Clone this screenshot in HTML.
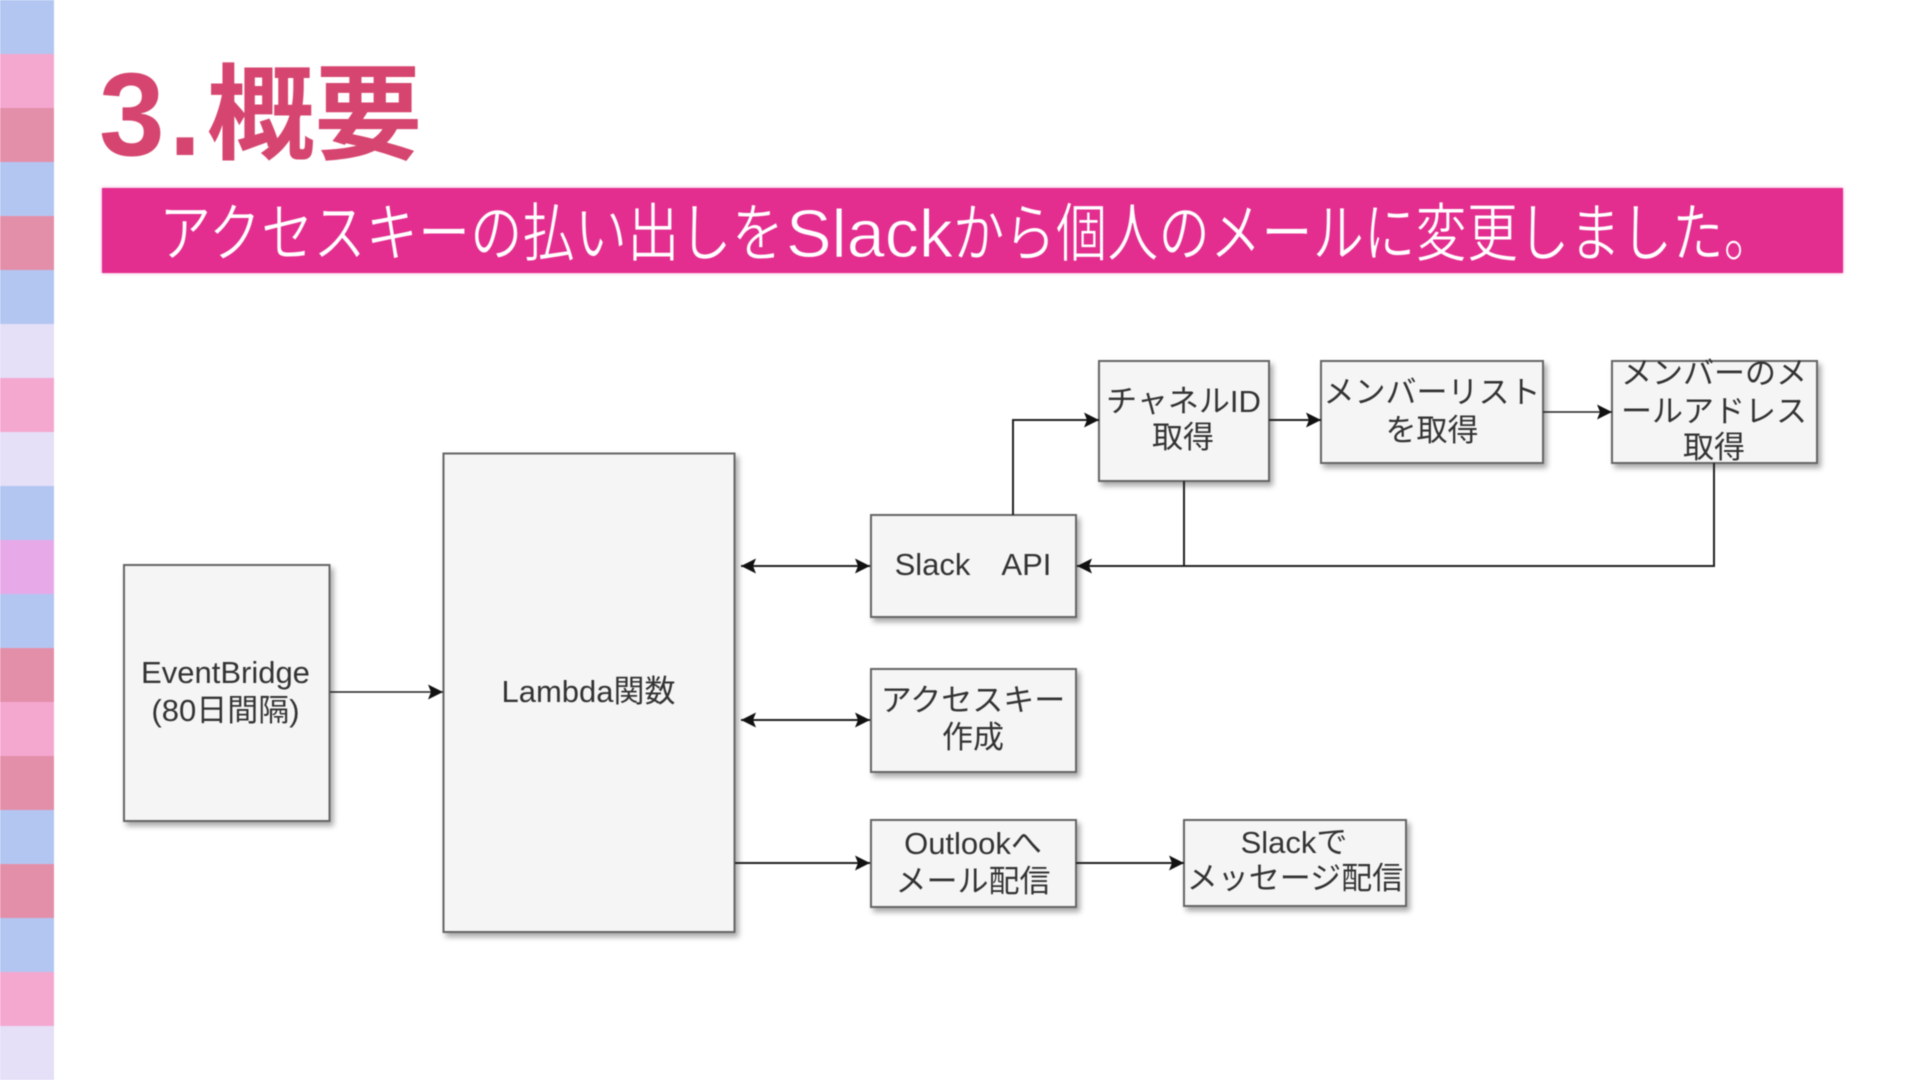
<!DOCTYPE html>
<html lang="ja"><head><meta charset="utf-8"><title>3.概要</title>
<style>
html,body{margin:0;padding:0;background:#fff;width:1920px;height:1080px;overflow:hidden}
svg{display:block;position:absolute;left:0;top:0;filter:blur(.4px)}
.b{fill:#f5f5f5;stroke:#666;stroke-width:2;filter:url(#s)}
.l{fill:none;stroke:#222;stroke-width:2}
.t{font-family:"Liberation Sans","Noto Sans CJK JP",sans-serif;font-size:31px;fill:#333;text-anchor:middle}
.w{font-family:"Liberation Sans","Noto Sans CJK JP",sans-serif;fill:#fff;stroke:#e32d8f;stroke-width:.9px}
.h{font-family:"Liberation Sans","Noto Sans CJK JP",sans-serif;font-weight:700;fill:#d6456f}
</style></head><body>
<svg width="1920" height="1080" viewBox="0 0 1920 1080" xmlns="http://www.w3.org/2000/svg">
<defs>
<filter id="s" x="-20%" y="-20%" width="140%" height="140%"><feDropShadow dx="3" dy="4" stdDeviation="3" flood-color="#000" flood-opacity=".35"/></filter>
<filter id="g" x="-2%" y="-20%" width="104%" height="140%"><feDropShadow dx="0" dy="0" stdDeviation="1.5" flood-color="#f49ac8" flood-opacity="1"/></filter>
<marker id="a" markerUnits="userSpaceOnUse" markerWidth="20" markerHeight="20" refX="18" refY="10" orient="auto-start-reverse"><path d="M18 10L3 2.500L6 10L3 17.500Z" fill="#111"/></marker>
</defs>
<g>
<rect x="0" y="0" width="54" height="54" fill="#b3c6f2"/>
<rect x="0" y="54" width="54" height="54" fill="#f4a8d0"/>
<rect x="0" y="108" width="54" height="54" fill="#e48faa"/>
<rect x="0" y="162" width="54" height="54" fill="#b3c6f2"/>
<rect x="0" y="216" width="54" height="54" fill="#e48faa"/>
<rect x="0" y="270" width="54" height="54" fill="#b3c6f2"/>
<rect x="0" y="324" width="54" height="54" fill="#e5e0f8"/>
<rect x="0" y="378" width="54" height="54" fill="#f4a8d0"/>
<rect x="0" y="432" width="54" height="54" fill="#e5e0f8"/>
<rect x="0" y="486" width="54" height="54" fill="#b3c6f2"/>
<rect x="0" y="540" width="54" height="54" fill="#e8a9e8"/>
<rect x="0" y="594" width="54" height="54" fill="#b3c6f2"/>
<rect x="0" y="648" width="54" height="54" fill="#e48faa"/>
<rect x="0" y="702" width="54" height="54" fill="#f4a8d0"/>
<rect x="0" y="756" width="54" height="54" fill="#e48faa"/>
<rect x="0" y="810" width="54" height="54" fill="#b3c6f2"/>
<rect x="0" y="864" width="54" height="54" fill="#e48faa"/>
<rect x="0" y="918" width="54" height="54" fill="#b3c6f2"/>
<rect x="0" y="972" width="54" height="54" fill="#f4a8d0"/>
<rect x="0" y="1026" width="54" height="54" fill="#e5e0f8"/>
</g>
<text class="h" x="99" y="155" font-size="118" letter-spacing="4">3.</text>
<text class="h" x="207" y="151" font-size="104" textLength="215" lengthAdjust="spacingAndGlyphs">概要</text>
<rect x="102" y="188" width="1741" height="85" fill="#e32d8f" filter="url(#g)"/>
<text class="w" x="159" y="256" font-size="64" textLength="625" lengthAdjust="spacingAndGlyphs">アクセスキーの払い出しを</text>
<text class="w" x="786" y="257" font-size="68" textLength="167" lengthAdjust="spacingAndGlyphs">Slack</text>
<text class="w" x="953" y="256" font-size="64" textLength="822" lengthAdjust="spacingAndGlyphs">から個人のメールに変更しました。</text>

<rect class="b" x="124" y="565" width="205.500" height="256"/>
<rect class="b" x="443.500" y="453.500" width="291" height="478.500"/>
<rect class="b" x="871" y="515" width="205" height="102"/>
<rect class="b" x="871" y="669" width="205" height="103"/>
<rect class="b" x="871" y="820" width="205" height="87"/>
<rect class="b" x="1184" y="820" width="222" height="86"/>
<rect class="b" x="1099" y="361" width="170" height="120"/>
<rect class="b" x="1321" y="361" width="222" height="102"/>
<rect class="b" x="1612" y="361" width="205" height="102"/>

<path class="l" style="stroke-width:1.5" d="M330 692H443" marker-end="url(#a)"/>
<path class="l" d="M741 566H870" marker-start="url(#a)" marker-end="url(#a)"/>
<path class="l" d="M741 720H870" marker-start="url(#a)" marker-end="url(#a)"/>
<path class="l" d="M735 863H870" marker-end="url(#a)"/>
<path class="l" d="M1076 863H1184" marker-end="url(#a)"/>
<path class="l" d="M1013 515V420H1099" marker-end="url(#a)"/>
<path class="l" d="M1269 420H1321" marker-end="url(#a)"/>
<path class="l" style="stroke-width:1.5" d="M1543 412H1612" marker-end="url(#a)"/>
<path class="l" d="M1714 463V566H1077" marker-end="url(#a)"/>
<path class="l" d="M1184 481V566"/>

<text class="t" x="225.500" y="683">EventBridge</text>
<text class="t" x="225.500" y="721">(80日間隔)</text>
<text class="t" x="588.500" y="702">Lambda関数</text>
<text class="t" x="973" y="575">Slack　API</text>
<text class="t" x="973" y="711">アクセスキー</text>
<text class="t" x="973" y="748">作成</text>
<text class="t" x="973" y="854">Outlookへ</text>
<text class="t" x="973" y="892">メール配信</text>
<text class="t" x="1294" y="853">Slackで</text>
<text class="t" x="1295" y="889">メッセージ配信</text>
<text class="t" x="1183.500" y="412">チャネルID</text>
<text class="t" x="1183" y="448">取得</text>
<text class="t" x="1432" y="403">メンバーリスト</text>
<text class="t" x="1432" y="441">を取得</text>
<text class="t" x="1714" y="384">メンバーのメ</text>
<text class="t" x="1714" y="422">ールアドレス</text>
<text class="t" x="1714" y="458">取得</text>
</svg>
</body></html>
